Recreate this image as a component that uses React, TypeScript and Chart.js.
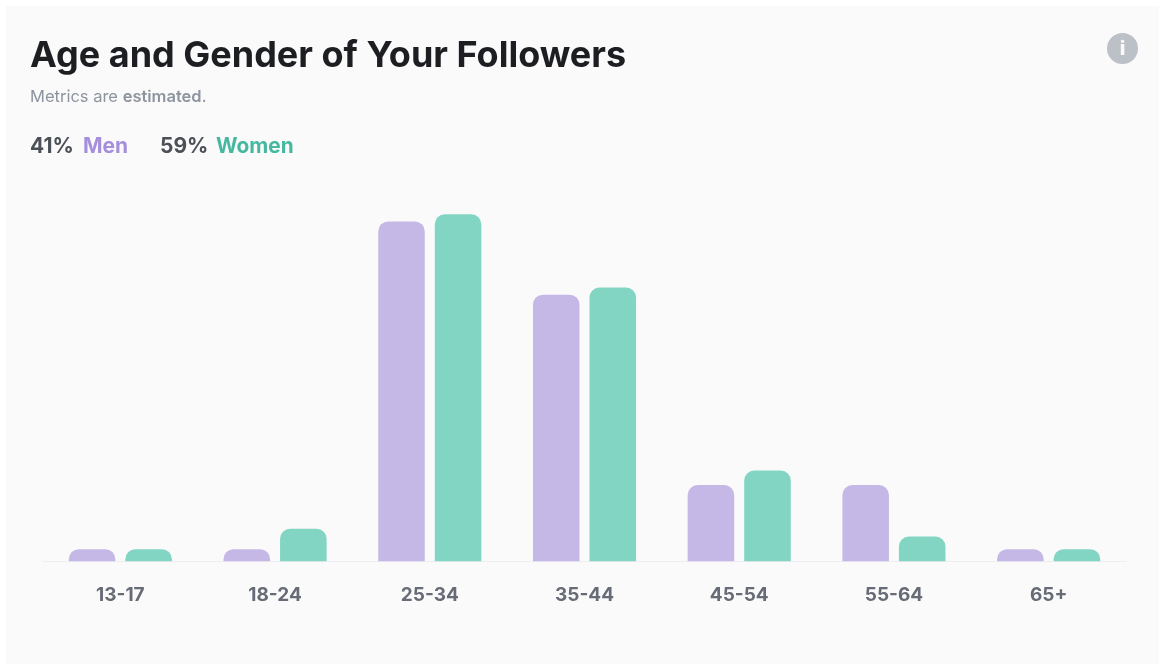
import React, { useEffect, useRef } from "react";
import { Chart, registerables } from "chart.js";

Chart.register(...registerables);

const ageGroups = ["13-17", "18-24", "25-34", "35-44", "45-54", "55-64", "65+"];
const menValues = [1, 1, 28.3, 22.2, 6.35, 6.35, 1];
const womenValues = [1, 2.7, 28.9, 22.8, 7.55, 2.05, 1];

const FONT = "Inter, 'Noto Sans', sans-serif";

export default function App() {
  const ref = useRef<HTMLCanvasElement | null>(null);

  useEffect(() => {
    document.body.style.margin = "0";
    document.body.style.background = "#ffffff";
    const chart = new Chart(ref.current!, {
      type: "bar",
      data: {
        labels: ageGroups,
        datasets: [
          { label: "Men", data: menValues, backgroundColor: "#c5b8e6", base: -1 },
          { label: "Women", data: womenValues, backgroundColor: "#82d4c3", base: -1 },
        ],
      },
      options: {
        animation: false,
        responsive: false,
        layout: { padding: { left: 43, right: 33, top: 201, bottom: 34 } },
        datasets: {
          bar: {
            categoryPercentage: 0.731,
            barPercentage: 0.823,
            borderRadius: { topLeft: 10, topRight: 10, bottomLeft: 0, bottomRight: 0 },
            borderSkipped: "bottom",
          },
        },
        plugins: { legend: { display: false }, tooltip: { enabled: false } },
        scales: {
          y: { display: false, min: 0, max: 30 },
          x: {
            grid: { display: false, drawTicks: false },
            border: { display: true, color: "#eeeef1", width: 1 },
            ticks: {
              padding: 23,
              color: "#666b75",
              maxRotation: 0,
              font: { family: FONT, size: 19, weight: 700 },
            },
          },
        },
      },
    });
    return () => chart.destroy();
  }, []);

  const abs = (left: number, top: number, extra: React.CSSProperties = {}): React.CSSProperties => ({
    position: "absolute",
    left,
    top,
    whiteSpace: "nowrap",
    fontFamily: FONT,
    ...extra,
  });

  return (
    <div style={{ position: "relative", width: 1159, height: 664, overflow: "hidden", background: "#ffffff" }}>
      <div style={{ position: "absolute", left: 6, top: 6, width: 1153, height: 658, background: "#fafafb" }} />
      <canvas ref={ref} width={1159} height={664} style={{ position: "absolute", left: 0, top: 0, display: "block" }} />
      <div style={abs(30, 32, { fontSize: 36, fontWeight: 700, lineHeight: "44px", color: "#1c1e21" })}>
        Age and Gender of Your Followers
      </div>
      <div style={abs(30, 86, { fontSize: 16.5, lineHeight: "20px", color: "#8d949e" })}>
        Metrics are <span style={{ fontWeight: 600 }}>estimated</span>.
      </div>
      <div style={abs(30, 132, { fontSize: 21, fontWeight: 700, lineHeight: "28px", color: "#4b4f56" })}>41%</div>
      <div style={abs(83, 132, { fontSize: 21, fontWeight: 700, lineHeight: "28px", color: "#a58fdb" })}>Men</div>
      <div style={abs(160, 132, { fontSize: 21, fontWeight: 700, lineHeight: "28px", color: "#4b4f56" })}>59%</div>
      <div style={abs(216, 132, { fontSize: 20.8, fontWeight: 700, lineHeight: "28px", color: "#47b8a0" })}>Women</div>
      <div
        style={abs(1107, 33, {
          width: 31,
          height: 31,
          borderRadius: "50%",
          background: "#bcc0c7",
          color: "#fafafb",
          fontSize: 20,
          fontWeight: 800,
          lineHeight: "31px",
          textAlign: "center",
        })}
      >
        i
      </div>
    </div>
  );
}
